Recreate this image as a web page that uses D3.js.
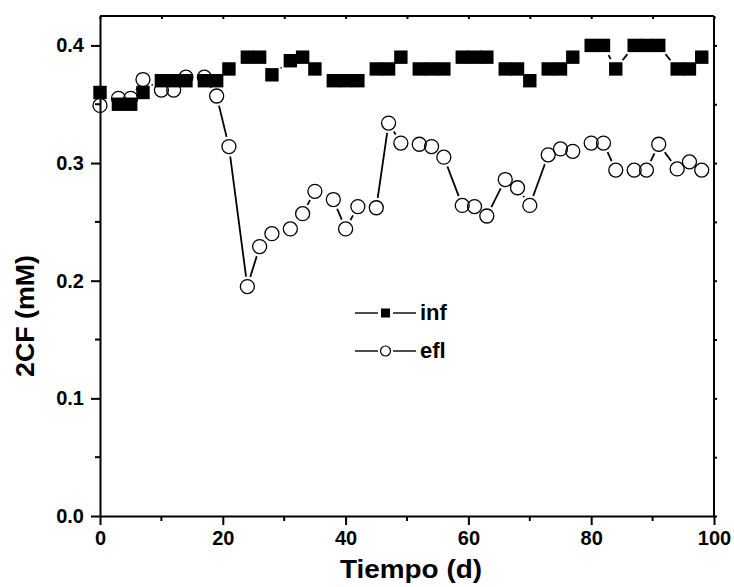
<!DOCTYPE html>
<html>
<head>
<meta charset="utf-8">
<script src="https://cdn.jsdelivr.net/npm/d3@7"></script>
<style>
  body { margin: 0; background: #fff; }
  svg { display: block; font-family: "Liberation Sans", Arial, sans-serif; font-weight: bold; }
  .axis path, .axis line { stroke: #000; stroke-width: 2; }
  .axis text { font-size: 20px; font-weight: bold; fill: #000; }
</style>
</head>
<body>
<svg width="734" height="587"></svg>
<script>

// sampling days (Mon / Wed / Fri)
var days = [0, 3, 5, 7, 10, 12, 14, 17, 19, 21, 24, 26, 28, 31, 33, 35, 38, 40, 42, 45, 47, 49,
    52, 54, 56, 59, 61, 63, 66, 68, 70, 73, 75, 77, 80, 82, 84, 87, 89, 91, 94, 96, 98];

// influent 2CF (mM)
var infValues = [0.36, 0.35, 0.35, 0.36, 0.37, 0.37, 0.37, 0.37, 0.37, 0.38, 0.39, 0.39, 0.375, 0.387, 0.39, 0.38, 0.37, 0.37, 0.37, 0.38, 0.38, 0.39,
    0.38, 0.38, 0.38, 0.39, 0.39, 0.39, 0.38, 0.38, 0.37, 0.38, 0.38, 0.39, 0.40, 0.40, 0.38, 0.40, 0.40, 0.40, 0.38, 0.38, 0.39];

// effluent 2CF (mM)
var eflValues = [0.349, 0.355, 0.355, 0.371, 0.362, 0.362, 0.373, 0.373, 0.357, 0.314, 0.195, 0.229, 0.240, 0.244, 0.257, 0.276, 0.269, 0.244, 0.263, 0.262, 0.334, 0.317,
    0.316, 0.314, 0.305, 0.264, 0.263, 0.255, 0.286, 0.279, 0.264, 0.307, 0.312, 0.310, 0.317, 0.317, 0.294, 0.294, 0.294, 0.316, 0.295, 0.301, 0.294];

var xTicks = [0, 20, 40, 60, 80, 100];
var xMinorTicks = [10, 30, 50, 70, 90];
var yTicks = [0, 0.1, 0.2, 0.3, 0.4];
var yMinorTicks = [0.05, 0.15, 0.25, 0.35];

var seriesNames = ["inf", "efl"];

function draw_chart() {

    var svg = d3.select("svg"),
    margin = {
        top: 16,
        right: 20,
        bottom: 71,
        left: 100
    },
    width = +svg.attr("width") - margin.left - margin.right,
    height = +svg.attr("height") - margin.top - margin.bottom;

    var x = d3.scaleLinear()
    .domain([0, 100])
    .range([0, width]);

    var y = d3.scaleLinear()
    .domain([0, 0.425])
    .range([height, 0]);

    var chart = svg.append("g")
    .attr("transform", "translate(" + margin.left + "," + margin.top + ")");

    // frame top and right
    chart.append("line")
    .attr("x1", 0).attr("x2", width).attr("y1", 0).attr("y2", 0)
    .attr("stroke", "#000").attr("stroke-width", 2);
    chart.append("line")
    .attr("x1", width).attr("x2", width).attr("y1", 0).attr("y2", height)
    .attr("stroke", "#000").attr("stroke-width", 2);

    // small ticks on top and right
    chart.append("g")
    .attr("class", "axis")
    .call(d3.axisTop(x).tickValues(xTicks.concat(xMinorTicks)).tickSize(-3).tickFormat(""))
    .select(".domain").remove();
    chart.append("g")
    .attr("class", "axis")
    .attr("transform", "translate(" + width + ",0)")
    .call(d3.axisRight(y).tickValues(yTicks.concat(yMinorTicks)).tickSize(3).tickFormat(""))
    .select(".domain").remove();

    // bottom axis
    var xAxis = chart.append("g")
    .attr("class", "axis")
    .attr("transform", "translate(0," + height + ")")
    .call(d3.axisBottom(x).tickValues(xTicks).tickSize(9).tickPadding(6).tickSizeOuter(0).tickFormat(d3.format("d")));
    xAxis.append("g")
    .selectAll("line")
    .data(xMinorTicks)
    .enter()
    .append("line")
    .attr("x1", function(d) { return x(d); })
    .attr("x2", function(d) { return x(d); })
    .attr("y1", 0)
    .attr("y2", 5);

    // left axis
    var yAxis = chart.append("g")
    .attr("class", "axis")
    .call(d3.axisLeft(y).tickValues(yTicks).tickSize(9).tickPadding(7).tickSizeOuter(0).tickFormat(d3.format(".1f")));
    yAxis.append("g")
    .selectAll("line")
    .data(yMinorTicks)
    .enter()
    .append("line")
    .attr("x1", 0)
    .attr("x2", -5)
    .attr("y1", function(d) { return y(d); })
    .attr("y2", function(d) { return y(d); });

    // line pieces between markers, with a gap around each marker
    function gapped(values, trim) {
        var segs = [];
        for (var i = 1; i < days.length; i++) {
            var x1 = x(days[i - 1]), y1 = y(values[i - 1]),
            x2 = x(days[i]), y2 = y(values[i]);
            var dx = x2 - x1, dy = y2 - y1,
            len = Math.sqrt(dx * dx + dy * dy);
            if (len <= 2 * trim + 1) continue;
            var ux = dx / len, uy = dy / len;
            segs.push([x1 + ux * trim, y1 + uy * trim, x2 - ux * trim, y2 - uy * trim]);
        }
        return segs;
    }

    chart.append("g")
    .selectAll("line")
    .data(gapped(eflValues, 10))
    .enter()
    .append("line")
    .attr("x1", function(d) { return d[0]; })
    .attr("y1", function(d) { return d[1]; })
    .attr("x2", function(d) { return d[2]; })
    .attr("y2", function(d) { return d[3]; })
    .attr("stroke", "#000")
    .attr("stroke-width", 1.8);

    chart.append("g")
    .selectAll("line")
    .data(gapped(infValues, 11))
    .enter()
    .append("line")
    .attr("x1", function(d) { return d[0]; })
    .attr("y1", function(d) { return d[1]; })
    .attr("x2", function(d) { return d[2]; })
    .attr("y2", function(d) { return d[3]; })
    .attr("stroke", "#000")
    .attr("stroke-width", 1.8);

    // efl open circles
    chart.append("g")
    .selectAll("circle")
    .data(eflValues)
    .enter()
    .append("circle")
    .attr("cx", function(d, i) { return x(days[i]); })
    .attr("cy", function(d) { return y(d); })
    .attr("r", 7)
    .attr("fill", "none")
    .attr("stroke", "#000")
    .attr("stroke-width", 1.3);

    // inf filled squares
    var sq = 13.4;
    chart.append("g")
    .selectAll("rect")
    .data(infValues)
    .enter()
    .append("rect")
    .attr("x", function(d, i) { return x(days[i]) - sq / 2; })
    .attr("y", function(d) { return y(d) - sq / 2; })
    .attr("width", sq)
    .attr("height", sq)
    .attr("fill", "#000");

    // legend
    var legend = svg.selectAll(".legend")
    .data(seriesNames)
    .enter()
    .append("g")
    .attr("class", "legend")
    .attr("transform", function(d, i) { return "translate(355," + (313 + i * 38) + ")"; });

    legend.append("line")
    .attr("x1", 0).attr("x2", 23).attr("y1", 0).attr("y2", 0)
    .attr("stroke", "#000").attr("stroke-width", 1.4);
    legend.append("line")
    .attr("x1", 38).attr("x2", 61).attr("y1", 0).attr("y2", 0)
    .attr("stroke", "#000").attr("stroke-width", 1.4);

    legend.filter(function(d) { return d === "inf"; })
    .append("rect")
    .attr("x", 26).attr("y", -4.5).attr("width", 9).attr("height", 9)
    .attr("fill", "#000");
    legend.filter(function(d) { return d === "efl"; })
    .append("circle")
    .attr("cx", 30.5).attr("cy", 0).attr("r", 5)
    .attr("fill", "none").attr("stroke", "#000").attr("stroke-width", 1.2);

    legend.append("text")
    .attr("x", 65)
    .attr("y", 7)
    .style("font-size", "22px")
    .text(function(d) { return d; });

    // axis titles
    svg.append("text")
    .attr("text-anchor", "middle")
    .style("font-size", "25px")
    .attr("textLength", 142)
    .attr("lengthAdjust", "spacingAndGlyphs")
    .attr("transform", "translate(411,578)")
    .text("Tiempo (d)");

    svg.append("text")
    .attr("text-anchor", "middle")
    .style("font-size", "25px")
    .attr("textLength", 122)
    .attr("lengthAdjust", "spacingAndGlyphs")
    .attr("transform", "translate(34,316)rotate(-90)")
    .text("2CF (mM)");
}

draw_chart();
</script>
</body>
</html>
